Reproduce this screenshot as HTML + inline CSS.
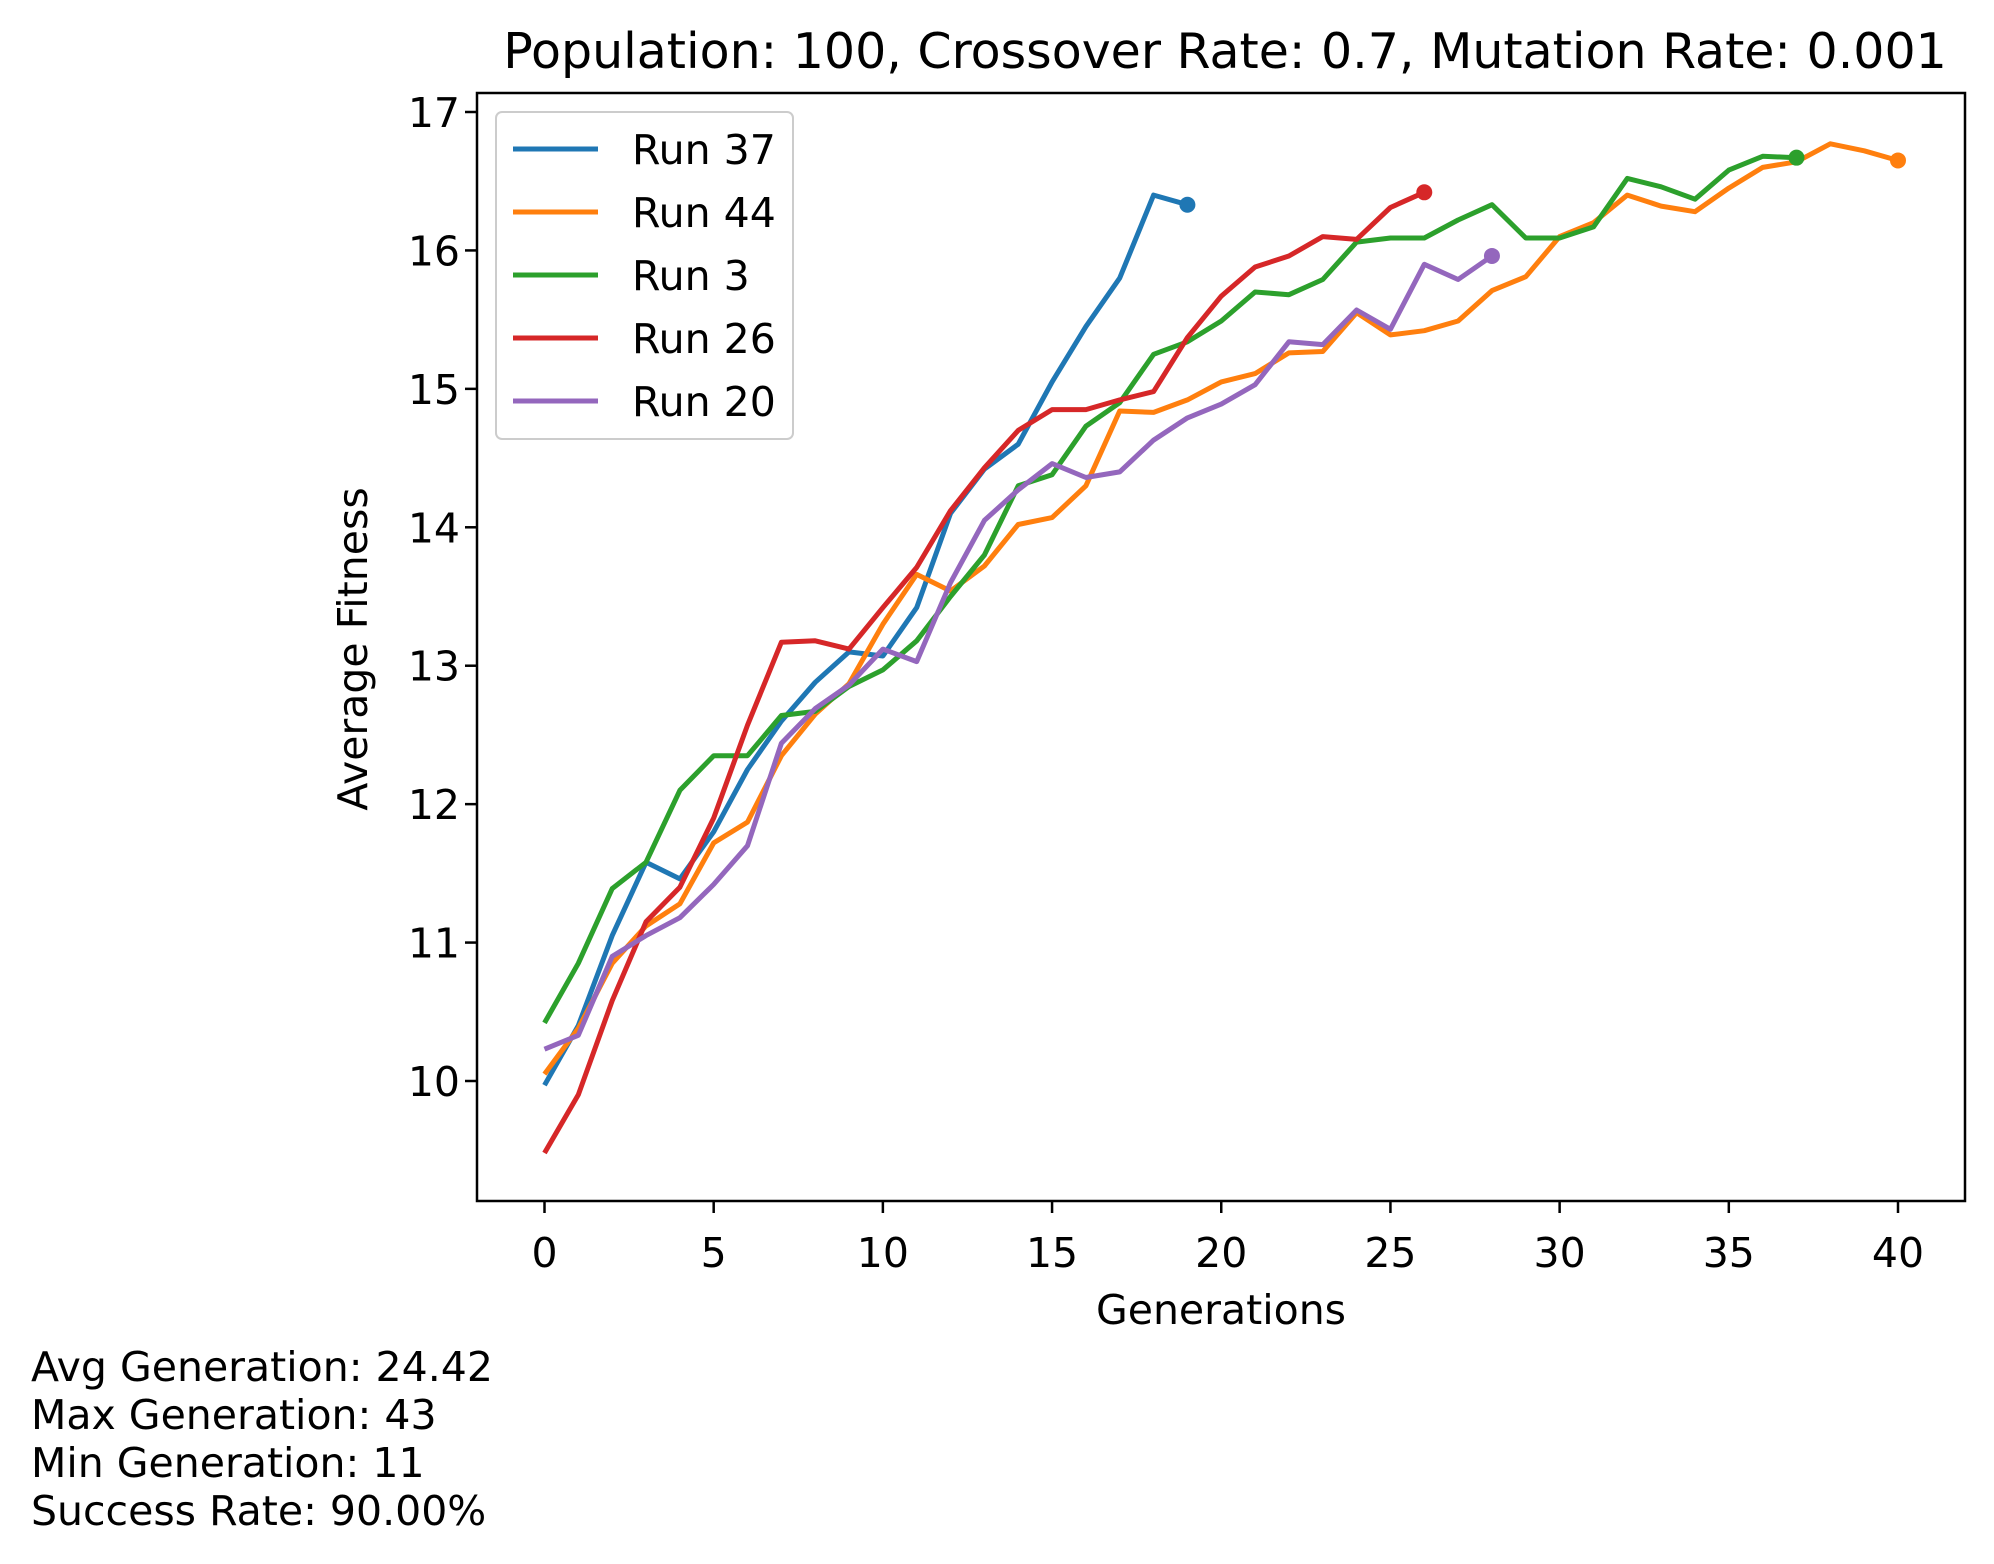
<!DOCTYPE html>
<html><head><meta charset="utf-8"><style>
html,body{margin:0;padding:0;background:#fff;}
svg{display:block;font-family:"DejaVu Sans","Liberation Sans",sans-serif;}
</style></head><body>
<svg id="chart" width="1994" height="1564" viewBox="0 0 1994 1564" xmlns="http://www.w3.org/2000/svg">
<rect width="1994" height="1564" fill="#fff"/>
<text x="1225" y="68" font-size="49" text-anchor="middle" fill="#000">Population: 100, Crossover Rate: 0.7, Mutation Rate: 0.001</text>
<g id="series"></g>
<rect x="477" y="93" width="1488" height="1108" fill="none" stroke="#000" stroke-width="2.5"/>
<g id="xticks"></g>
<g id="yticks"></g>
<text x="1221" y="1324" font-size="41" text-anchor="middle">Generations</text>
<text x="0" y="0" font-size="41" text-anchor="middle" transform="translate(367,649) rotate(-90)">Average Fitness</text>
<g id="legend"></g>
<g font-size="41">
<text x="31" y="1381">Avg Generation: 24.42</text>
<text x="31" y="1429">Max Generation: 43</text>
<text x="31" y="1477">Min Generation: 11</text>
<text x="31" y="1525">Success Rate: 90.00%</text>
</g>
</svg>
<script>
const seriesNames = ["Run 37","Run 44","Run 3","Run 26","Run 20"];
const seriesColors = ["#1f77b4","#ff7f0e","#2ca02c","#d62728","#9467bd"];
const run37 = [9.97,10.4,11.05,11.58,11.46,11.8,12.25,12.6,12.88,13.1,13.07,13.42,14.1,14.42,14.6,15.05,15.45,15.8,16.4,16.33];
const run44 = [10.05,10.38,10.85,11.12,11.28,11.72,11.87,12.35,12.65,12.87,13.3,13.66,13.54,13.72,14.02,14.07,14.3,14.84,14.83,14.92,15.05,15.11,15.26,15.27,15.55,15.39,15.42,15.49,15.71,15.81,16.1,16.2,16.4,16.32,16.28,16.45,16.6,16.64,16.77,16.72,16.65];
const run3 = [10.42,10.85,11.39,11.58,12.1,12.35,12.35,12.64,12.67,12.85,12.97,13.18,13.5,13.8,14.3,14.38,14.73,14.9,15.25,15.34,15.49,15.7,15.68,15.79,16.06,16.09,16.09,16.22,16.33,16.09,16.09,16.17,16.52,16.46,16.37,16.58,16.68,16.67];
const run26 = [9.48,9.9,10.58,11.15,11.4,11.9,12.57,13.17,13.18,13.12,13.42,13.71,14.12,14.43,14.7,14.85,14.85,14.92,14.98,15.37,15.67,15.88,15.96,16.1,16.08,16.31,16.42];
const run20 = [10.23,10.33,10.9,11.05,11.18,11.42,11.7,12.44,12.69,12.86,13.12,13.03,13.6,14.05,14.27,14.46,14.36,14.4,14.63,14.79,14.89,15.03,15.34,15.32,15.57,15.43,15.9,15.79,15.96];
const xTickLabels = [0,5,10,15,20,25,30,35,40];
const yTickLabels = [10,11,12,13,14,15,16,17];

const NS="http://www.w3.org/2000/svg";
function xs(v){return 544.5+(v-0)*(1898-544.5)/40;}
function ys(v){return 1081-(v-10)*(1081-112)/7;}
function mk(tag,attrs,parent){const e=document.createElementNS(NS,tag);for(const k in attrs)e.setAttribute(k,attrs[k]);parent.appendChild(e);return e;}

const allSeries=[run37,run44,run3,run26,run20];
const sg=document.getElementById('series');
allSeries.forEach((data,i)=>{
  const pts=data.map((v,j)=>xs(j).toFixed(1)+','+ys(v).toFixed(1)).join(' ');
  const pl=mk('polyline',{points:pts,fill:'none',stroke:seriesColors[i],'stroke-width':5,'stroke-linejoin':'round'},sg);
  
  
  const last=data.length-1;
  const c=mk('circle',{cx:xs(last),cy:ys(data[last]),r:8,fill:seriesColors[i]},sg);
  
  
});

const xg=document.getElementById('xticks');
xTickLabels.forEach(v=>{
  const t=mk('line',{x1:xs(v),x2:xs(v),y1:1201,y2:1213,stroke:'#000','stroke-width':2.5},xg);
  
  
  const l=mk('text',{x:xs(v),y:1267,'font-size':41,'text-anchor':'middle'},xg);
  l.textContent=v;
  
  
});
const yg=document.getElementById('yticks');
yTickLabels.forEach(v=>{
  const t=mk('line',{x1:465,x2:477,y1:ys(v),y2:ys(v),stroke:'#000','stroke-width':2.5},yg);
  
  
  const l=mk('text',{x:460,y:ys(v)+15,'font-size':41,'text-anchor':'end'},yg);
  l.textContent=v;
  
  
});

const lg=document.getElementById('legend');
const box=mk('rect',{x:496,y:112,width:297,height:327,rx:6,fill:'#fff','fill-opacity':0.8,stroke:'#ccc','stroke-width':2},lg);


seriesNames.forEach((n,i)=>{
  const y=149+i*63;
  const ln=mk('line',{x1:513,x2:598,y1:y,y2:y,stroke:seriesColors[i],'stroke-width':5},lg);
  
  
  const t=mk('text',{x:632,y:y+15,'font-size':41},lg);
  t.textContent=n;
  
  
});
</script>
</body></html>
